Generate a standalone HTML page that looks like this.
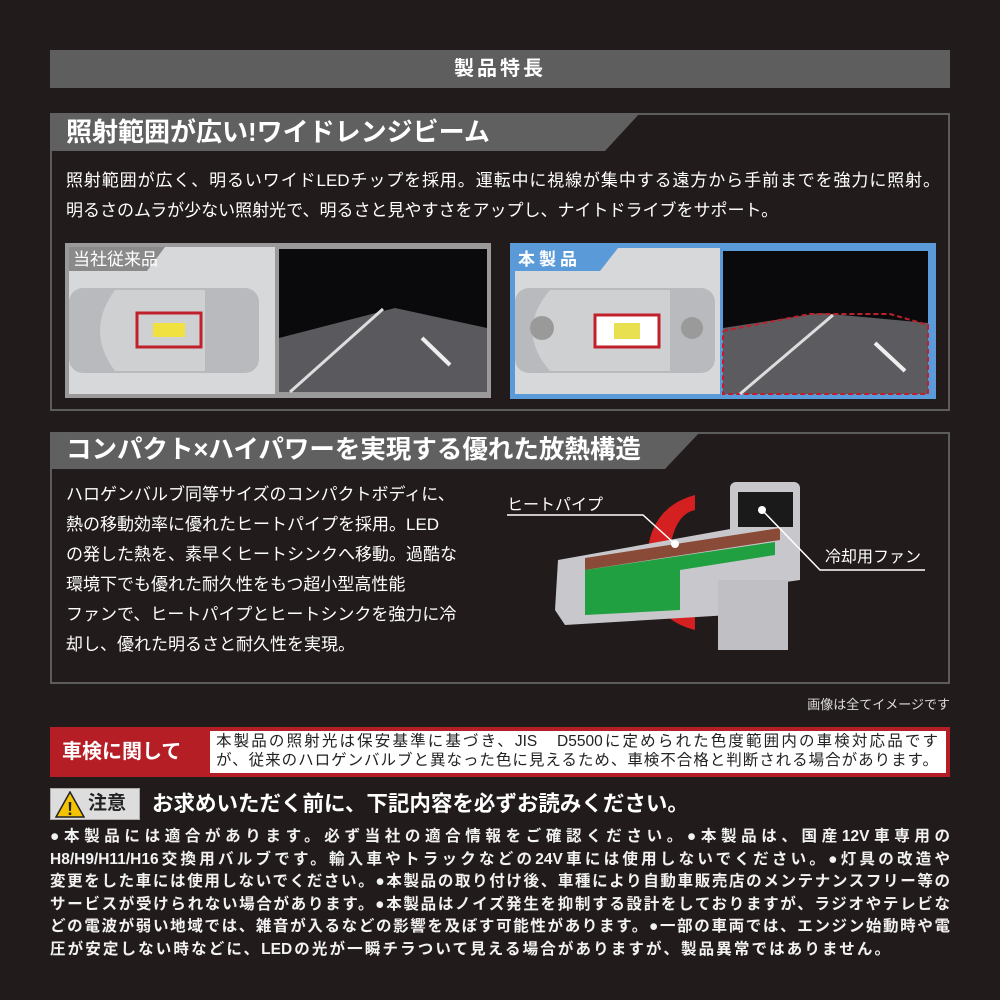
<!DOCTYPE html>
<html><head><meta charset="utf-8"><style>
*{margin:0;padding:0;box-sizing:border-box}
body{width:1000px;height:1000px;background:#221b1b;position:relative;overflow:hidden;font-family:"Liberation Sans","Noto Sans CJK JP",sans-serif;color:#fff}
.a{position:absolute;white-space:nowrap}
.box{position:absolute;border:2px solid #5c5c5c}
.j{display:block;text-align:justify;text-align-last:justify;white-space:nowrap}
.q{font-size:17px;line-height:30px}
.n{font-size:15.5px;line-height:22.5px;font-weight:bold;color:#f2f2f2;width:900px}
</style></head><body>
<div class="a" style="left:50px;top:50px;width:900px;height:38px;background:#5e5e5e;text-align:center;font-size:20px;font-weight:bold;line-height:38px;letter-spacing:3px">製品特長</div>

<div class="box" style="left:50px;top:113px;width:900px;height:298px"></div>
<svg class="a" style="left:50px;top:113px" width="900" height="40"><polygon points="0,0 590,0 555,38 0,38" fill="#606060"/></svg>
<div class="a" style="left:66px;top:114px;font-size:26px;line-height:36px;font-weight:bold">照射範囲が広い!ワイドレンジビーム</div>
<div class="a" style="left:66px;top:166px;font-size:17px;line-height:30px">
<span class="j" style="width:874px">照射範囲が広く、明るいワイドLEDチップを採用。運転中に視線が集中する遠方から手前までを強力に照射。</span>
<span class="j" style="width:708px">明るさのムラが少ない照射光で、明るさと見やすさをアップし、ナイトドライブをサポート。</span></div>

<svg class="a" style="left:65px;top:243px" width="430" height="157">
<rect width="426" height="155" fill="#9a9a9a"/>
<rect x="4" y="4" width="206" height="147" fill="#d6d8da"/>
<polygon points="4,4 100,4 82,28 4,28" fill="#8a8a8a"/>
<text x="8" y="22" font-size="17" fill="#fff" font-family="Liberation Sans,Noto Sans CJK JP,sans-serif">当社従来品</text>
<rect x="4" y="45" width="190" height="85" rx="14" fill="#b8babd"/>
<path d="M50,47 Q20,88 50,128 L140,128 L140,47Z" fill="#cfd0d2"/>
<rect x="72" y="70" width="64" height="34" fill="none" stroke="#c0202a" stroke-width="3"/>
<rect x="88" y="80" width="32" height="14" fill="#f0e040"/>
<rect x="214" y="6" width="208" height="143" fill="#0a0a0c"/>
<polygon points="214,149 214,95 330,65 422,85 422,149" fill="#5a5a5e"/>
<line x1="225" y1="149" x2="318" y2="66" stroke="#ddd" stroke-width="3"/>
<line x1="357" y1="95" x2="385" y2="122" stroke="#eee" stroke-width="4"/>
</svg>

<svg class="a" style="left:510px;top:243px" width="430" height="160">
<rect width="426" height="156" fill="#5a9ad8"/>
<rect x="5" y="5" width="205" height="146" fill="#d6d8da"/>
<polygon points="5,5 108,5 90,28 5,28" fill="#5a9ad8"/>
<text x="8" y="22" font-size="17" font-weight="bold" fill="#fff" font-family="Liberation Sans,Noto Sans CJK JP,sans-serif" letter-spacing="4">本製品</text>
<rect x="5" y="45" width="200" height="85" rx="14" fill="#b8babd"/>
<path d="M40,47 Q5,88 40,128 L160,128 L160,47Z" fill="#cfd0d2"/>
<circle cx="32" cy="85" r="12" fill="#9a9a9a"/><circle cx="182" cy="85" r="11" fill="#9a9a9a"/>
<rect x="85" y="72" width="64" height="32" fill="#fff" stroke="#c0202a" stroke-width="3"/>
<rect x="104" y="80" width="26" height="16" fill="#e8e050"/>
<rect x="213" y="8" width="205" height="143" fill="#0a0a0c"/>
<polygon points="213,151 213,85 310,70 418,80 418,151" fill="#5c5c60"/>
<polyline points="213,88 300,71 380,71 418,82 418,151 213,151 213,88" fill="none" stroke="#c0202a" stroke-width="2" stroke-dasharray="5,3"/>
<line x1="230" y1="151" x2="323" y2="72" stroke="#ddd" stroke-width="3"/>
<line x1="365" y1="100" x2="395" y2="128" stroke="#eee" stroke-width="4"/>
</svg>

<div class="box" style="left:50px;top:432px;width:900px;height:252px"></div>
<svg class="a" style="left:50px;top:432px" width="900" height="40"><polygon points="0,0 650,0 615,37 0,37" fill="#606060"/></svg>
<div class="a" style="left:66px;top:433px;font-size:25.5px;line-height:35px;font-weight:bold">コンパクト×ハイパワーを実現する優れた放熱構造</div>
<div class="a q" style="left:66px;top:480px">ハロゲンバルブ同等サイズのコンパクトボディに、<br>熱の移動効率に優れたヒートパイプを採用。LED<br>の発した熱を、素早くヒートシンクへ移動。過酷な<br>環境下でも優れた耐久性をもつ超小型高性能<br>ファンで、ヒートパイプとヒートシンクを強力に冷<br>却し、優れた明るさと耐久性を実現。</div>

<svg class="a" style="left:480px;top:470px" width="470" height="210">
<path d="M215,25 Q160,40 168,110 Q175,150 215,160 L215,140 Q190,130 188,100 Q190,45 215,40Z" fill="#d42020"/>
<polygon points="78,90 300,50 320,50 320,110 250,120 250,145 85,155 75,140" fill="#c8c8cc"/>
<rect x="250" y="12" width="70" height="60" rx="6" fill="#c8c8cc"/>
<rect x="258" y="22" width="55" height="35" fill="#1a1a1a"/>
<rect x="238" y="110" width="70" height="70" fill="#c0c0c4"/>
<polygon points="105,88 300,58 300,70 105,100" fill="#8a4a38"/>
<polygon points="105,100 295,72 295,85 200,100 200,140 105,145" fill="#20a040"/>
<polyline points="27,45 163,45 195,74" fill="none" stroke="#fff" stroke-width="1.5"/>
<circle cx="195" cy="74" r="4" fill="#fff"/>
<polyline points="282,40 340,100 445,100" fill="none" stroke="#fff" stroke-width="1.5"/>
<circle cx="282" cy="40" r="4" fill="#fff"/>
<text x="27" y="40" font-size="16" fill="#fff" font-family="Liberation Sans,Noto Sans CJK JP,sans-serif">ヒートパイプ</text>
<text x="345" y="92" font-size="16" fill="#fff" font-family="Liberation Sans,Noto Sans CJK JP,sans-serif">冷却用ファン</text>
</svg>

<div class="a" style="right:50px;top:694px;font-size:13px;color:#ddd">画像は全てイメージです</div>

<div class="a" style="left:50px;top:727px;width:900px;height:50px;background:#b51e25"></div>
<div class="a" style="left:62px;top:727px;font-size:20px;line-height:50px;font-weight:bold">車検に関して</div>
<div class="a" style="left:210px;top:731px;width:736px;height:42px;background:#fff;color:#222;font-size:15.5px;line-height:19px;padding:1px 6px">
<span class="j" style="width:722px">本製品の照射光は保安基準に基づき、JIS　D5500に定められた色度範囲内の車検対応品です</span>
<span class="j" style="width:722px">が、従来のハロゲンバルブと異なった色に見えるため、車検不合格と判断される場合があります。</span></div>

<div class="a" style="left:50px;top:788px;width:90px;height:32px;background:#ddd;border:1px solid #aaa"></div>
<svg class="a" style="left:55px;top:791px" width="30" height="27"><polygon points="15,1 29,26 1,26" fill="#f5c400" stroke="#222" stroke-width="1.5"/><text x="15" y="24" text-anchor="middle" font-size="18" font-weight="bold" fill="#222">!</text></svg>
<div class="a" style="left:88px;top:788px;font-size:19px;line-height:32px;font-weight:bold;color:#222">注意</div>
<div class="a" style="left:152px;top:788px;font-size:21.5px;line-height:32px;font-weight:bold">お求めいただく前に、下記内容を必ずお読みください。</div>

<div class="a n" style="left:50px;top:826px">
<span class="j">●本製品には適合があります。必ず当社の適合情報をご確認ください。●本製品は、国産12V車専用の</span>
<span class="j">H8/H9/H11/H16交換用バルブです。輸入車やトラックなどの24V車には使用しないでください。●灯具の改造や</span>
<span class="j">変更をした車には使用しないでください。●本製品の取り付け後、車種により自動車販売店のメンテナンスフリー等の</span>
<span class="j">サービスが受けられない場合があります。●本製品はノイズ発生を抑制する設計をしておりますが、ラジオやテレビな</span>
<span class="j">どの電波が弱い地域では、雑音が入るなどの影響を及ぼす可能性があります。●一部の車両では、エンジン始動時や電</span>
<span class="j" style="width:840px">圧が安定しない時などに、LEDの光が一瞬チラついて見える場合がありますが、製品異常ではありません。</span></div>
</body></html>
